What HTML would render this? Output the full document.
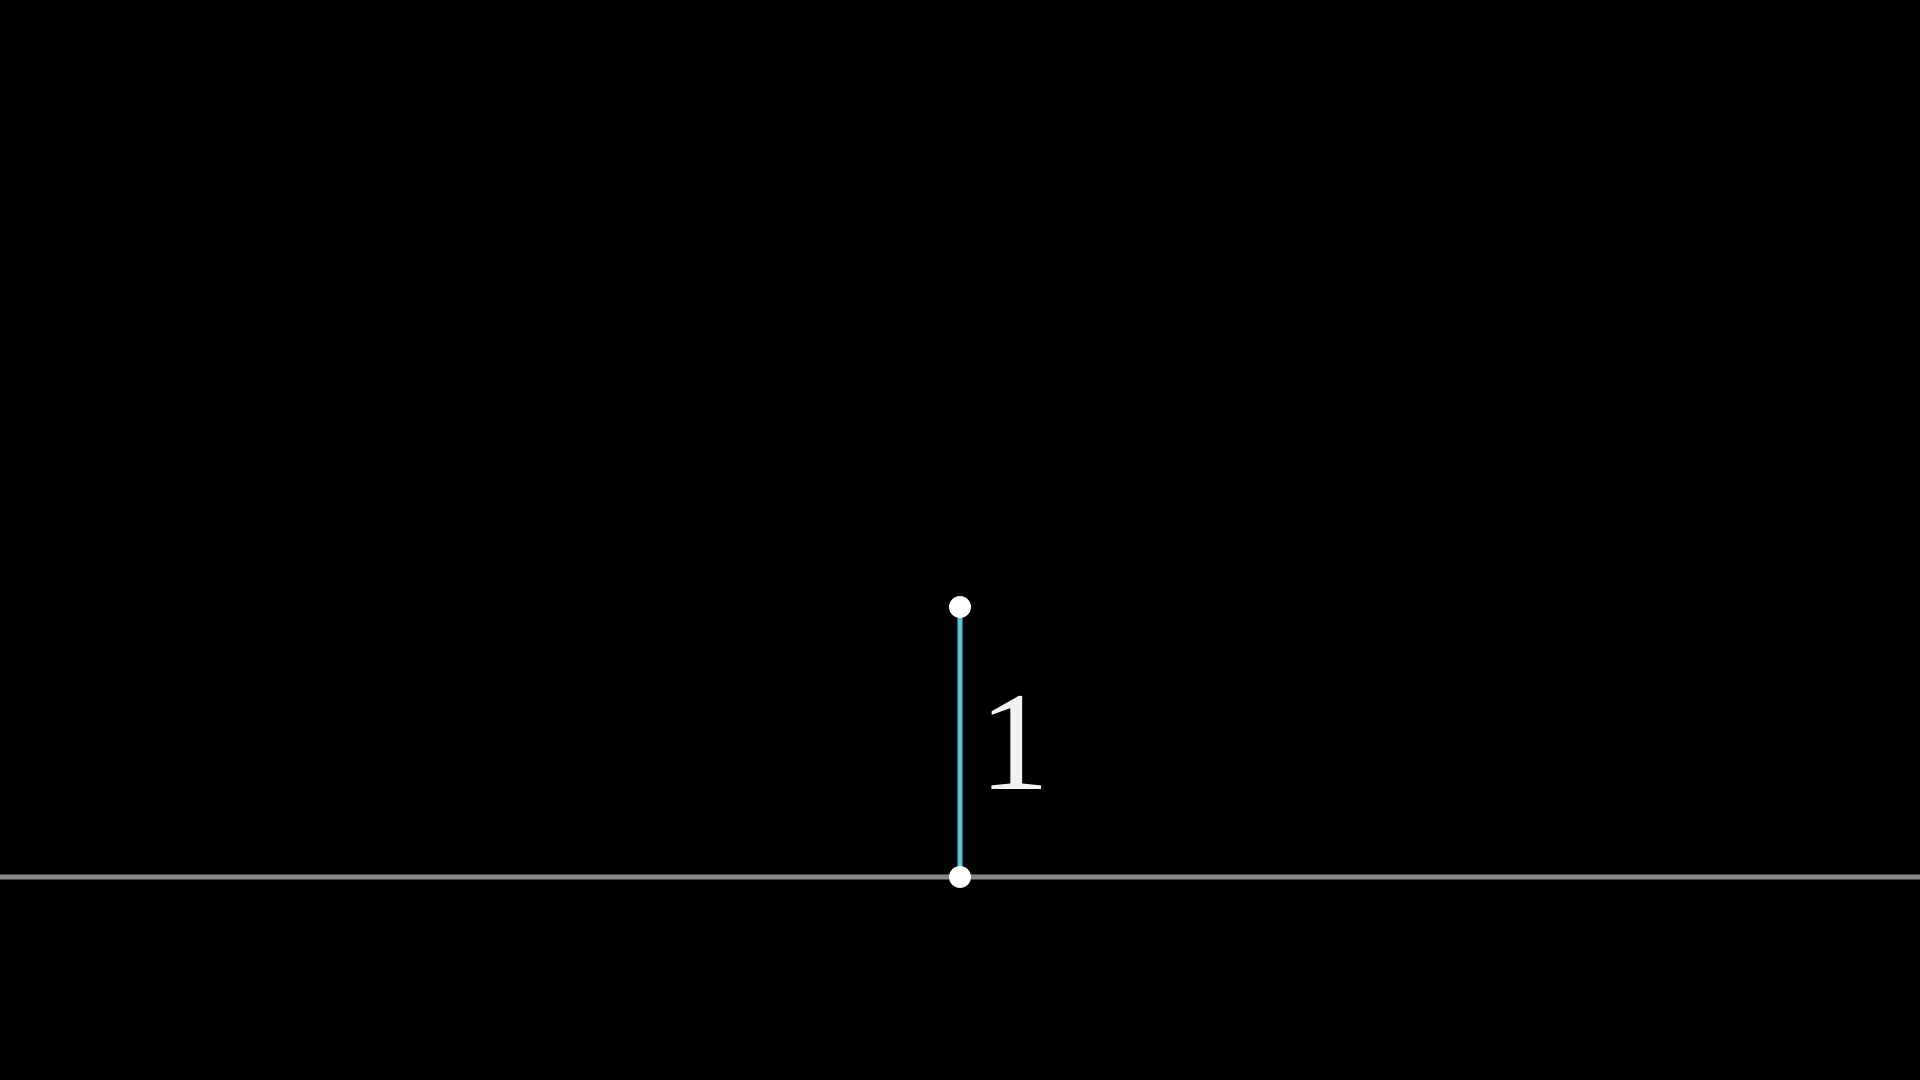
<!DOCTYPE html>
<html><head><meta charset="utf-8"><style>
html,body{margin:0;padding:0;background:#000;width:1920px;height:1080px;overflow:hidden}
</style></head><body>
<svg width="1920" height="1080" viewBox="0 0 1920 1080">
<rect width="1920" height="1080" fill="#000"/>
<line x1="0" y1="877" x2="1920" y2="877" stroke="#888888" stroke-width="5"/>
<line x1="960" y1="607" x2="960" y2="877" stroke="#58C4DD" stroke-width="5"/>
<circle cx="960" cy="607" r="11" fill="#fff"/>
<circle cx="960" cy="877" r="11" fill="#fff"/>
<text x="979" y="789" font-family="'Liberation Serif', serif" font-size="141" fill="#f2f2f2">1</text>
</svg>
</body></html>
